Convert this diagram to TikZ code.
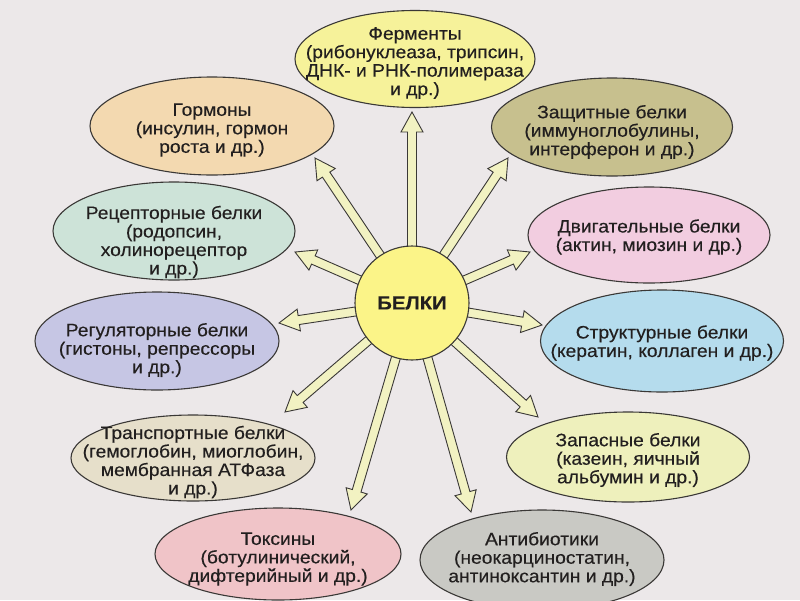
\documentclass[tikz,border=0pt]{standalone}
\usepackage{fontspec}
\setmainfont{Liberation Sans}[FakeStretch=1.07, FakeBold=0.3]
\usetikzlibrary{shapes.geometric,calc}
\definecolor{bgc}{HTML}{ECE8E9}
\definecolor{linec}{HTML}{3A3836}
\definecolor{textc}{HTML}{221F1F}
\definecolor{arrowc}{HTML}{F2F2C2}
\definecolor{cferm}{HTML}{F6F29A}
\definecolor{cgorm}{HTML}{F3D9B0}
\definecolor{crec}{HTML}{CDE3D8}
\definecolor{creg}{HTML}{C6C6E4}
\definecolor{ctrans}{HTML}{E6DFCA}
\definecolor{ctox}{HTML}{F0C4C8}
\definecolor{canti}{HTML}{C9C9C4}
\definecolor{czap}{HTML}{EEF0BC}
\definecolor{cstruct}{HTML}{B5DCED}
\definecolor{cdvig}{HTML}{F2CDE0}
\definecolor{czash}{HTML}{C7C08E}
\definecolor{ccenter}{HTML}{FBF488}
\tikzset{
  ell/.style={ellipse, draw=linec, line width=1.1pt, inner sep=0pt},
  lbl/.style={align=center, inner sep=0pt, text=textc, font=\fontsize{18}{18.5}\selectfont},
  fat/.style={fill=arrowc, draw=linec, line width=0.9pt, line join=miter},
  hub/.style={circle, draw=linec, line width=1.1pt, fill=ccenter, minimum size=114pt,
    inner sep=0pt, text=textc, font=\fontsize{19}{20}\selectfont\bfseries},
}
\newcommand\fatarrow[2]{%
  \coordinate (hb) at ($(#2)!20pt!(#1)$);
  \draw[fat] ($(#1)!4.5pt!90:(#2)$) -- ($(hb)!4.5pt!90:(#2)$) -- ($(hb)!11pt!90:(#2)$)
    -- (#2) -- ($(hb)!11pt!-90:(#2)$) -- ($(hb)!4.5pt!-90:(#2)$) -- ($(#1)!4.5pt!-90:(#2)$) -- cycle;
}
\begin{document}
\begin{tikzpicture}[x=1pt,y=-1pt]
\fill[bgc] (0,0) rectangle (800,600);
\useasboundingbox (0,0) rectangle (800,600);
% ellipses
\node[ell, fill=cferm, minimum width=240pt, minimum height=97pt] (ferm) at (415,59) {};
\node[lbl] (tferm0) at (415,63) {Ферменты\\(рибонуклеаза, трипсин,\\ДНК- и РНК-полимераза\\и др.)};
\node[ell, fill=cgorm, minimum width=244pt, minimum height=98pt] (gorm) at (212,126) {};
\node[lbl] (tgorm0) at (212,130) {Гормоны\\(инсулин, гормон\\роста и др.)};
\node[ell, fill=crec, minimum width=242pt, minimum height=98pt] (rec) at (174,231) {};
\node[lbl] (trec0) at (174,242) {Рецепторные белки\\(родопсин,\\холинорецептор\\и др.)};
\node[ell, fill=creg, minimum width=244pt, minimum height=98pt] (reg) at (157,341) {};
\node[lbl] (treg0) at (157,350) {Регуляторные белки\\(гистоны, репрессоры\\и др.)};
\node[ell, fill=ctrans, minimum width=244pt, minimum height=86pt] (trans) at (193,458) {};
\node[lbl] (ttrans0) at (193,462) {Транспортные белки\\(гемоглобин, миоглобин,\\мембранная АТФаза\\и др.)};
\node[ell, fill=ctox, minimum width=246pt, minimum height=92pt] (tox) at (278,554) {};
\node[lbl] (ttox0) at (278,559) {Токсины\\(ботулинический,\\дифтерийный и др.)};
\node[ell, fill=canti, minimum width=244pt, minimum height=100pt] (anti) at (542,560) {};
\node[lbl] (tanti0) at (542,559) {Антибиотики\\(неокарциностатин,\\антиноксантин и др.)};
\node[ell, fill=czap, minimum width=243pt, minimum height=90pt] (zap) at (628,457) {};
\node[lbl] (tzap0) at (628,460) {Запасные белки\\(казеин, яичный\\альбумин и др.)};
\node[ell, fill=cstruct, minimum width=243pt, minimum height=102pt] (struct) at (662,341) {};
\node[lbl] (tstruct0) at (662,343) {Структурные белки\\(кератин, коллаген и др.)};
\node[ell, fill=cdvig, minimum width=242pt, minimum height=96pt] (dvig) at (649,235) {};
\node[lbl] (tdvig0) at (649,237) {Двигательные белки\\(актин, миозин и др.)};
\node[ell, fill=czash, minimum width=241pt, minimum height=98pt] (zash) at (612,127) {};
\node[lbl] (tzash0) at (612,132) {Защитные белки\\(иммуноглобулины,\\интерферон и др.)};
% arrow tips
\coordinate (c0) at (412,303);
\coordinate (tferm) at (412,112);
\coordinate (tzash) at (508,158);
\coordinate (tdvig) at (530,252);
\coordinate (tstruct) at (542,325);
\coordinate (tzap) at (538,417);
\coordinate (tanti) at (471,512);
\coordinate (ttox) at (351,510);
\coordinate (ttrans) at (285,412);
\coordinate (treg) at (279,323);
\coordinate (trec) at (295,252);
\coordinate (tgorm) at (315,158);
\foreach \t in {tferm,tzash,tdvig,tstruct,tzap,tanti,ttox,ttrans,treg,trec,tgorm}{
  \fatarrow{c0}{\t}
}
\node[hub] (c) at (c0) {БЕЛКИ};
\end{tikzpicture}
\end{document}
